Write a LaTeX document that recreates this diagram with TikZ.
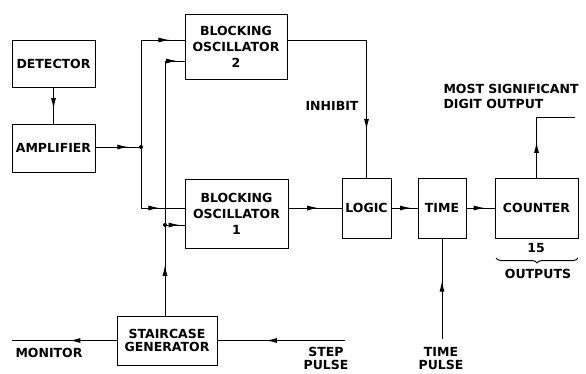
\documentclass[tikz,border=0pt]{standalone}
\usepackage{fontspec}
\setmainfont{DejaVu Sans}
\usetikzlibrary{arrows.meta, decorations.markings, decorations.pathreplacing}

\tikzset{
  box/.style={draw, line width=1pt, align=center, inner sep=2pt},
  wire/.style={line width=1pt},
  arrowat/.style={postaction={decorate, decoration={markings,
      mark=at position #1 with {\arrow{Latex[length=11pt,width=5pt]}}}}},
  arrowat/.default=0.5,
  tight/.style={font=\bfseries\fontsize{12.5}{13}\selectfont},
  dot/.style={circle, fill, inner sep=0pt, minimum size=4pt}
}

\begin{document}
\begin{tikzpicture}[x=1pt, y=-1pt, font=\bfseries\fontsize{12.5}{16}\selectfont]
\useasboundingbox (0,0) rectangle (586,373);

\node[box, minimum width=83pt, minimum height=47pt] (det) at (53.5,63.5) {DETECTOR};
\node[box, minimum width=83pt, minimum height=48pt] (amp) at (53.5,148) {AMPLIFIER};
\node[box, minimum width=102pt, minimum height=65pt] (bo2) at (236,46.5) {BLOCKING\\OSCILLATOR\\2};
\node[box, minimum width=103pt, minimum height=69pt] (bo1) at (236.5,213.5) {BLOCKING\\OSCILLATOR\\1};
\node[box, tight, minimum width=100pt, minimum height=49pt] (stair) at (167,340.5) {STAIRCASE\\GENERATOR};
\node[box, minimum width=49pt, minimum height=60pt] (logic) at (366.5,208) {LOGIC};
\node[box, minimum width=48pt, minimum height=60pt] (time) at (442,208) {TIME};
\node[box, minimum width=83pt, minimum height=60pt] (cnt) at (536.5,208) {COUNTER};

\node[dot] (j1) at (141,147) {};
\node[dot] (j2) at (165,225) {};
\coordinate (inh) at (365,40);
\coordinate (mon) at (12,340.5);
\coordinate (step) at (345,340.5);
\coordinate (tp) at (442,339);
\coordinate (msd) at (575,117);
\coordinate (bl) at (496,258);
\coordinate (br) at (578,258);

\draw[wire, arrowat=0.6] (det) -- (amp);
\draw[wire, arrowat=0.72] (amp.east |- j1) -- (j1.center);
\draw[wire, arrowat=0.9] (j1.center) |- (bo2.west |- inh);
\draw[wire, arrowat=0.76] (j1.center) |- (bo1.west |- logic.west);
\draw[wire, arrowat=0.56] (j2 |- stair.north) -- (j2.center);
\draw[wire, arrowat=0.75] (j2.center) -- (bo1.west |- j2);
\draw[wire, arrowat=0.96] (j2.center) |- ([yshift=-14.5pt]bo2.west);
\draw[wire, arrowat=0.45] (stair.west) -- (mon);
\draw[wire, arrowat=0.62] (step) -- (stair.east);
\draw[wire, arrowat=0.56] (bo1.east |- logic.west) -- (logic.west);
\draw[wire, arrowat=0.75] (logic) -- (time);
\draw[wire, arrowat=0.65] (time) -- (cnt);
\draw[wire, arrowat=0.78] (bo2.east |- inh) -| (logic.north);
\draw[wire, arrowat=0.36] (cnt.north) |- (msd);
\draw[wire, arrowat=0.58] (tp) -- (time.south);
\draw[wire, decorate, decoration={brace, mirror, amplitude=5pt}] (bl) -- (br);

\node[anchor=east] (inhlbl) at (362,106) {INHIBIT};
\node[anchor=west, align=left, font=\bfseries\fontsize{12.5}{15}\selectfont] (msdlbl) at (440,96.5) {MOST SIGNIFICANT\\DIGIT OUTPUT};
\node[anchor=west] (monlbl) at (12,353) {MONITOR};
\node[tight, align=center] (steplbl) at (326,358.5) {STEP\\PULSE};
\node[tight, align=center] (tplbl) at (441,358.5) {TIME\\PULSE};
\node (n15) at (536,248) {15};
\node (outlbl) at (538,274) {OUTPUTS};
\end{tikzpicture}
\end{document}
